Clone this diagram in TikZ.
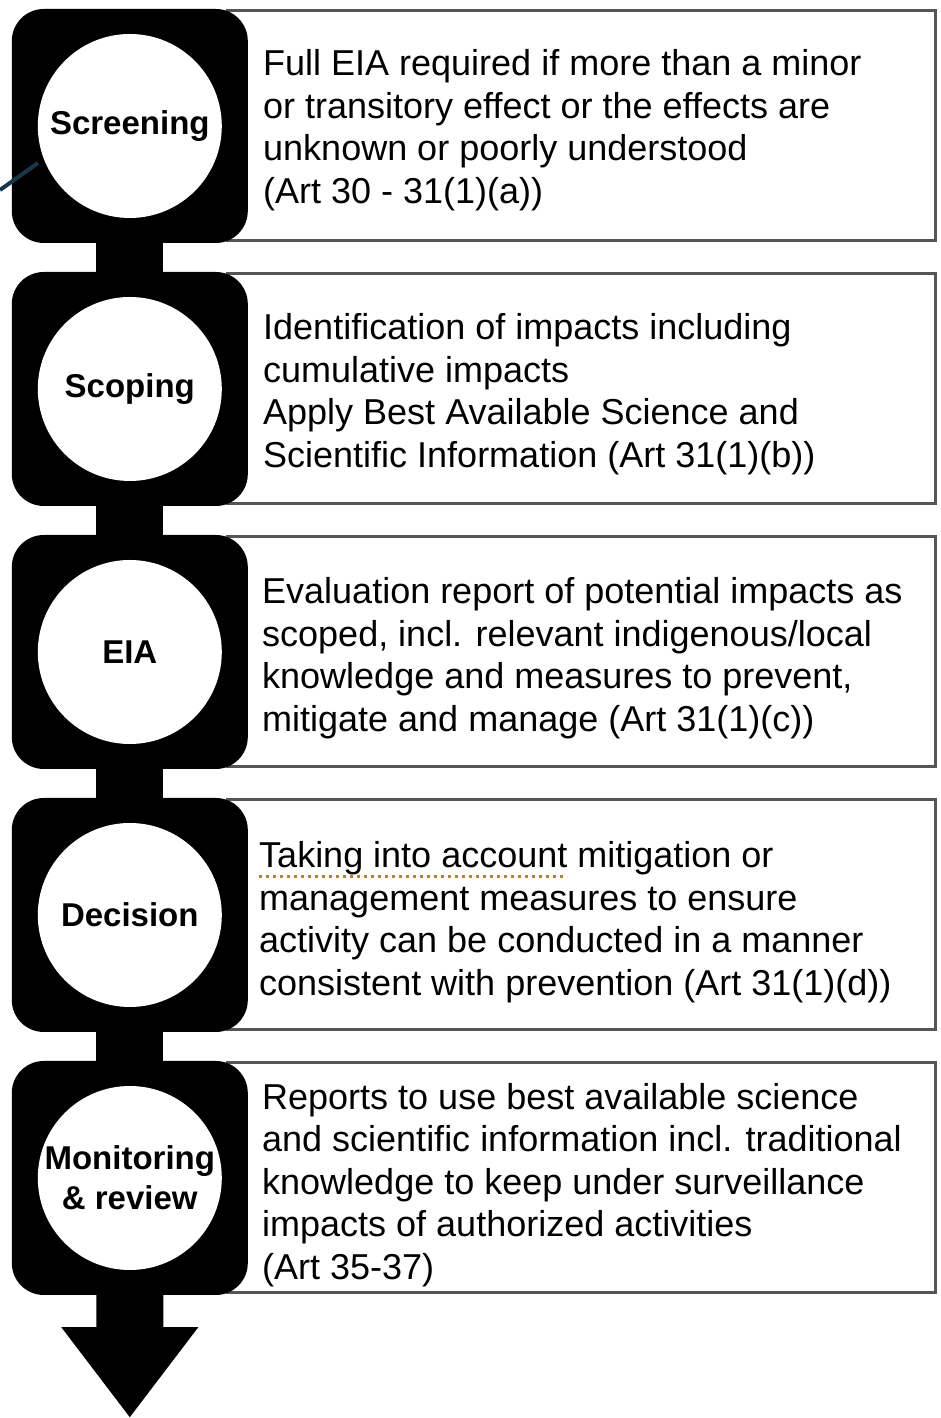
\documentclass[tikz,border=0pt]{standalone}
\usepackage{fontspec}
\setmainfont{Liberation Sans}
\usetikzlibrary{positioning}

\definecolor{boxgray}{RGB}{85,85,85}
\definecolor{spellbrown}{RGB}{180,130,50}
\definecolor{straydark}{RGB}{25,55,75}

\begin{document}
\begin{tikzpicture}[x=1pt,y=1pt,
    textbox/.style={rectangle, draw=boxgray, line width=3pt,
                minimum width=708pt, minimum height=230pt},
    stage/.style={rectangle, fill=black, rounded corners=32pt,
                minimum width=236pt, minimum height=234pt},
    disc/.style={circle, fill=white, minimum size=184pt, inner sep=0pt,
                align=center, font=\fontsize{33}{40}\selectfont\bfseries},
    desc/.style={align=left, inner sep=0pt, font=\fontsize{36}{42.5}\selectfont},
    stem/.style={line width=67pt}]

    \useasboundingbox (0,0) rectangle (940,1418);

    \node [textbox] (screenbox) at (581.5,1292) {};
    \node [textbox,below=30pt of screenbox] (scopebox) {};
    \node [textbox,below=30pt of scopebox] (eiabox) {};
    \node [textbox,below=30pt of eiabox] (decisionbox) {};
    \node [textbox,below=30pt of decisionbox] (monitorbox) {};

    \node [stage,left=-22pt of screenbox] (screen) {};
    \node [stage,left=-22pt of scopebox] (scope) {};
    \node [stage,left=-22pt of eiabox] (eia) {};
    \node [stage,left=-22pt of decisionbox] (decision) {};
    \node [stage,left=-22pt of monitorbox] (monitor) {};

    \draw [stem] (screen.south) -- (scope.north);
    \draw [stem] (scope.south) -- (eia.north);
    \draw [stem] (eia.south) -- (decision.north);
    \draw [stem] (decision.south) -- (monitor.north);

    % arrow out of the last stage
    \coordinate [below=32pt of monitor.south] (headbase);
    \coordinate [below=90pt of headbase] (tip);
    \fill ([xshift=-33.5pt]monitor.south) -- ([xshift=-33.5pt]headbase)
        -- ([xshift=-68.5pt]headbase) -- (tip) -- ([xshift=68.5pt]headbase)
        -- ([xshift=33.5pt]headbase) -- ([xshift=33.5pt]monitor.south) -- cycle;

    \coordinate (strayA) at (0,1228);
    \coordinate (strayB) at (38,1255);
    \draw [straydark, line width=4pt] (strayA) -- (strayB);

    \node [disc] (screenlbl) at (screen) {Screening};
    \node [disc] (scopelbl) at (scope) {Scoping};
    \node [disc] (eialbl) at (eia) {EIA};
    \node [disc] (decisionlbl) at (decision) {Decision};
    \node [disc] (monitorlbl) at (monitor) {Monitoring\\\& review};

    \node [desc,anchor=west] (screentxt) at ([xshift=37pt,yshift=-4pt]screenbox.west)
        {Full EIA required if more than a minor\\
        or transitory effect or the effects are\\
        unknown or poorly understood\\
        (Art 30 - 31(1)(a))};
    \node [desc,anchor=west] (scopetxt) at ([xshift=37pt,yshift=-5pt]scopebox.west)
        {Identification of impacts including\\
        cumulative impacts\\
        Apply Best Available Science and\\
        Scientific Information (Art 31(1)(b))};
    \node [desc,anchor=west] (eiatxt) at ([xshift=36pt,yshift=-6pt]eiabox.west)
        {Evaluation report of potential impacts as\\
        scoped, incl. relevant indigenous/local\\
        knowledge and measures to prevent,\\
        mitigate and manage (Art 31(1)(c))};
    \node [desc,anchor=west] (decisiontxt) at ([xshift=33pt,yshift=-7pt]decisionbox.west)
        {Taking into account mitigation or\\
        management measures to ensure\\
        activity can be conducted in a manner\\
        consistent with prevention (Art 31(1)(d))};
    \node [desc,anchor=west] (monitortxt) at ([xshift=36pt,yshift=-7pt]monitorbox.west)
        {Reports to use best available science\\
        and scientific information incl. traditional\\
        knowledge to keep under surveillance\\
        impacts of authorized activities\\
        (Art 35-37)};

    \coordinate (spellA) at ([yshift=-35pt]decisiontxt.north west);
    \coordinate (spellB) at ([xshift=308pt]spellA);
    \draw [spellbrown, line width=3pt, dash pattern=on 3pt off 4pt] (spellA) -- (spellB);

\end{tikzpicture}
\end{document}
